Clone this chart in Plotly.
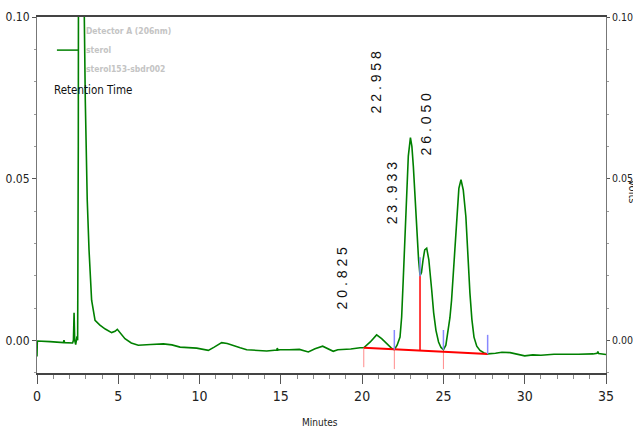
import plotly.graph_objects as go

# ---- data ----
time_min = [0.0, 0.02, 0.8, 1.62, 1.66, 1.70, 2.19, 2.24, 2.28, 2.32, 2.38, 2.46, 2.50,
            2.54, 2.57, 2.70, 2.85, 2.91, 2.97, 3.09, 3.20, 3.36, 3.57, 3.87, 4.20, 4.59,
            4.80, 4.94, 5.10, 5.41, 5.80, 6.23, 7.00, 7.77, 8.30, 8.80, 9.82, 10.20, 10.54,
            10.90, 11.36, 11.70, 12.07, 12.50, 12.90, 13.50, 14.13, 14.75, 14.78, 14.82,
            14.95, 15.50, 16.14, 16.69, 17.10, 17.57, 17.90, 18.22, 18.50, 18.84, 19.30,
            19.87, 20.10, 20.50, 20.89, 21.20, 21.50, 21.80, 21.98, 22.15, 22.33, 22.43,
            22.53, 22.63, 22.74, 22.84, 22.97, 23.06, 23.15, 23.25, 23.35, 23.47, 23.56,
            23.65, 23.75, 23.85, 23.97, 24.10, 24.28, 24.40, 24.54, 24.70, 24.85, 25.00,
            25.15, 25.30, 25.40, 25.50, 25.65, 25.81, 25.95, 26.08, 26.22, 26.38, 26.50,
            26.63, 26.75, 26.88, 27.05, 27.25, 27.50, 27.72, 28.20, 28.60, 29.10, 29.50,
            30.00, 30.50, 31.00, 31.80, 32.50, 33.30, 34.20, 34.45, 34.50, 34.55, 35.00]
signal_v = [-0.0050, -0.0002, -0.0004, -0.0007, 0.0000, -0.0007, -0.0008, 0.0000, 0.0085,
            0.0000, -0.0013, 0.0012, 0.0000, 0.0600, 0.2000, 0.5000, 0.2000, 0.1000, 0.0745,
            0.0435, 0.0280, 0.0124, 0.0062, 0.0047, 0.0035, 0.0024, 0.0028, 0.0034, 0.0025,
            0.0005, -0.0008, -0.0015, -0.0013, -0.0011, -0.0014, -0.0021, -0.0024, -0.0027,
            -0.0031, -0.0021, -0.0007, -0.0010, -0.0015, -0.0023, -0.0029, -0.0031, -0.0033,
            -0.0030, -0.0024, -0.0030, -0.0029, -0.0029, -0.0028, -0.0036, -0.0026, -0.0018,
            -0.0025, -0.0034, -0.0029, -0.0028, -0.0027, -0.0023, -0.0023, -0.0005, 0.0017,
            0.0005, -0.0010, -0.0024, -0.0029, -0.0015, 0.0010, 0.0072, 0.0190, 0.0330,
            0.0460, 0.0570, 0.0627, 0.0600, 0.0538, 0.0440, 0.0332, 0.0250, 0.0200, 0.0210,
            0.0250, 0.0280, 0.0285, 0.0250, 0.0155, 0.0085, 0.0031, -0.0005, -0.0022,
            -0.0029, -0.0015, 0.0030, 0.0070, 0.0124, 0.0250, 0.0383, 0.0470, 0.0497,
            0.0465, 0.0383, 0.0260, 0.0146, 0.0065, 0.0010, -0.0018, -0.0031, -0.0039,
            -0.0042, -0.0040, -0.0037, -0.0038, -0.0042, -0.0048, -0.0045, -0.0046, -0.0043,
            -0.0044, -0.0043, -0.0042, -0.0040, -0.0035, -0.0041, -0.0044]

peak_labels = ["20.825", "22.958", "23.933", "26.050"]
label_t = [18.73, 20.88, 21.80, 23.95]
label_v = [0.0190, 0.0799, 0.0456, 0.0669]

baseline_t = [20.10, 21.98, 23.56, 25.00, 27.72]
baseline_v = [-0.0023, -0.0027, -0.0031, -0.0035, -0.0042]

drop_t = [23.56, 23.56]
drop_v = [-0.0031, 0.0200]

mark_t = [21.98, 23.56, 25.00, 27.72]
mark_lo = [-0.0029, 0.0198, -0.0029, -0.0042]
mark_hi = [0.0032, 0.0257, 0.0032, 0.0017]

tick_t = [20.10, 21.98, 25.00]
tick_lo = [-0.0083, -0.0089, -0.0089]
tick_hi = [-0.0023, -0.0027, -0.0035]

x_ticks = [0, 5, 10, 15, 20, 25, 30, 35]
y_ticks = [0.00, 0.05, 0.10]
y_tick_text = ["0.00", "0.05", "0.10"]


def segments(ts, lo, hi):
    xs, ys = [], []
    for t, a, b in zip(ts, lo, hi):
        xs += [t, t, None]
        ys += [a, b, None]
    return xs, ys


FONT = "DejaVu Sans Condensed, Liberation Sans, Arial, sans-serif"
YR = [-0.0101, 0.1]

fig = go.Figure()
fig.add_trace(go.Scatter(x=time_min, y=signal_v, mode="lines",
                         line=dict(color="#008000", width=1.6), hoverinfo="skip"))
tx, ty = segments(tick_t, tick_lo, tick_hi)
fig.add_trace(go.Scatter(x=tx, y=ty, mode="lines", line=dict(color="#ff8c8c", width=1),
                         hoverinfo="skip"))
fig.add_trace(go.Scatter(x=baseline_t, y=baseline_v, mode="lines",
                         line=dict(color="#ff0000", width=2), hoverinfo="skip"))
fig.add_trace(go.Scatter(x=drop_t, y=drop_v, mode="lines",
                         line=dict(color="#ff0000", width=1.5), hoverinfo="skip"))
mx, my = segments(mark_t, mark_lo, mark_hi)
fig.add_trace(go.Scatter(x=mx, y=my, mode="lines", line=dict(color="#8888ff", width=1.5),
                         hoverinfo="skip"))
# invisible trace to activate the right-hand axis
fig.add_trace(go.Scatter(x=[0, 35], y=[0, 0], yaxis="y2", mode="lines",
                         line=dict(width=0), opacity=0, hoverinfo="skip"))

for txt, t, v in zip(peak_labels, label_t, label_v):
    fig.add_annotation(x=t, y=v, xref="x", yref="y", text=" ".join(txt), textangle=-90,
                       showarrow=False, font=dict(family="Liberation Sans, Arial", size=14,
                                                  color="#111"))

# legend block (text only)
leg_font = dict(family=FONT, size=8.5, color="#c4c4c4")
fig.add_annotation(x=0.0825, y=0.961, xref="paper", yref="paper", text="<b>Detector A (206nm)</b>",
                   showarrow=False, xanchor="left", yanchor="middle", font=leg_font)
fig.add_annotation(x=0.0825, y=0.907, xref="paper", yref="paper", text="<b>sterol</b>",
                   showarrow=False, xanchor="left", yanchor="middle", font=leg_font)
fig.add_annotation(x=0.0825, y=0.854, xref="paper", yref="paper", text="<b>sterol153-sbdr002</b>",
                   showarrow=False, xanchor="left", yanchor="middle", font=leg_font)
fig.add_shape(type="line", xref="paper", yref="paper", x0=0.035, x1=0.072, y0=0.907, y1=0.907,
              line=dict(color="#008000", width=1.5))
fig.add_annotation(x=0.027, y=0.795, xref="paper", yref="paper", text="Retention Time",
                   showarrow=False, xanchor="left", yanchor="middle",
                   font=dict(family=FONT, size=11.5, color="#111"))
fig.add_annotation(x=1.047, y=0.51, xref="paper", yref="paper", text="Volts", textangle=90,
                   showarrow=False, xanchor="center", yanchor="middle",
                   font=dict(family=FONT, size=11, color="#222"))
fig.add_annotation(x=0.497, y=-0.138, xref="paper", yref="paper", text="Minutes",
                   showarrow=False, xanchor="center", yanchor="middle",
                   font=dict(family=FONT, size=10, color="#222"))

fig.update_layout(
    width=633, height=427,
    margin=dict(l=37, r=26.5, t=17, b=54, autoexpand=False),
    paper_bgcolor="white", plot_bgcolor="white",
    showlegend=False,
    font=dict(family=FONT, size=12, color="#222"),
    xaxis=dict(range=[0, 35], tickvals=x_ticks, ticks="outside", ticklen=9, tickwidth=1,
               tickcolor="#555", showline=True, linecolor="#444", linewidth=2, mirror=True,
               showgrid=False, zeroline=False, automargin=False,
               minor=dict(dtick=1, ticks="outside", ticklen=4, tickcolor="#888"),
               tickfont=dict(size=14, family=FONT, color="#222")),
    yaxis=dict(range=YR, tickvals=y_ticks, ticktext=y_tick_text, ticks="outside", ticklen=4,
               tickcolor="#555", showline=True, linecolor="#777", linewidth=1,
               showgrid=False, zeroline=False, automargin=False,
               minor=dict(dtick=0.01, tick0=0, ticks="outside", ticklen=2, tickcolor="#999"),
               tickfont=dict(size=12, family=FONT, color="#222")),
    yaxis2=dict(range=YR, overlaying="y", side="right", tickvals=y_ticks, ticktext=y_tick_text,
                ticks="outside", ticklen=3, tickcolor="#555", showline=True, linecolor="#777",
                linewidth=1, showgrid=False, zeroline=False, automargin=False,
                minor=dict(dtick=0.01, tick0=0, ticks="outside", ticklen=2, tickcolor="#999"),
                tickfont=dict(size=10.5, family=FONT, color="#222")),
)

fig.write_html("out.html", post_script="document.body.style.margin='0';",
               config={"displayModeBar": False})
